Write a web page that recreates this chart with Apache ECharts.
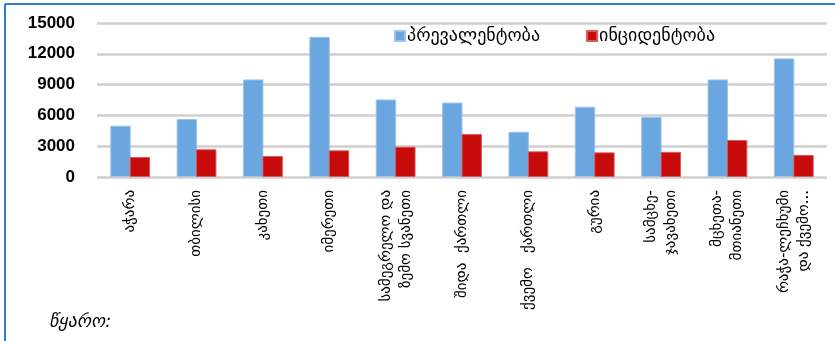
<!DOCTYPE html>
<html>
<head>
<meta charset="utf-8">
<script src="https://cdn.jsdelivr.net/npm/echarts@6/dist/echarts.min.js"></script>
<style>
html, body { margin: 0; padding: 0; background: #fff; }
#chart { width: 835px; height: 341px; }
</style>
</head>
<body>
<div id="chart"></div>
<script>
// რეგიონები
var regions = [
    'აჭარა',
    'თბილისი',
    'კახეთი',
    'იმერეთი',
    'სამეგრელო და\nზემო სვანეთი',
    'შიდა  ქართლი',
    'ქვემო   ქართლი',
    'გურია',
    'სამცხე-\nჯავახეთი',
    'მცხეთა-\nმთიანეთი',
    'რაჭა-ლეჩხუმი\nდა ქვემო...'
];
var seriesNames = ['პრევალენტობა', 'ინციდენტობა'];
var prevalence = [5000, 5650, 9500, 13650, 7550, 7250, 4400, 6850, 5850, 9500, 11550];
var incidence = [1950, 2700, 2050, 2600, 2950, 4200, 2500, 2400, 2450, 3600, 2150];
var yTicks = [0, 3000, 6000, 9000, 12000, 15000];

var geo = '"DejaVu Sans", sans-serif';
var chart = echarts.init(document.getElementById('chart'));

chart.setOption({
    animation: false,
    backgroundColor: '#fff',
    grid: { left: 97, right: 8, top: 23, bottom: 164 },
    legend: {
        data: seriesNames,
        left: 389,
        top: 22,
        itemWidth: 10,
        itemHeight: 10,
        itemGap: 46,
        textStyle: { fontFamily: geo, fontSize: 18, color: '#000', padding: [0, 0, 0, -3] },
        icon: 'rect'
    },
    xAxis: {
        type: 'category',
        data: regions,
        axisLine: { show: false },
        axisTick: { show: false },
        axisLabel: {
            interval: 0,
            rotate: 90,
            margin: 13,
            fontFamily: geo,
            fontSize: 15,
            lineHeight: 20,
            color: '#000'
        }
    },
    yAxis: {
        type: 'value',
        min: 0,
        max: 15000,
        interval: 3000,
        axisLabel: {
            fontFamily: '"Liberation Sans", Arial, sans-serif',
            fontWeight: 'bold',
            fontSize: 17,
            color: '#000',
            margin: 22,
            formatter: function (v) { return yTicks.indexOf(v) >= 0 ? String(v) : ''; }
        },
        splitLine: { lineStyle: { color: '#cfcfcf', width: 2.5 } }
    },
    series: [
        {
            name: seriesNames[0],
            type: 'bar',
            data: prevalence,
            barGap: '-5%',
            barCategoryGap: '40%',
            itemStyle: { color: '#6aa6df', borderColor: '#9cc3ea', borderWidth: 1 }
        },
        {
            name: seriesNames[1],
            type: 'bar',
            data: incidence,
            itemStyle: { color: '#c70b0b', borderColor: '#d85a5a', borderWidth: 1 }
        }
    ],
    graphic: [
        { type: 'line', shape: { x1: 5, y1: 4, x2: 835, y2: 4 }, style: { stroke: '#2a7fcf', lineWidth: 2 } },
        { type: 'line', shape: { x1: 5, y1: 4, x2: 5, y2: 341 }, style: { stroke: '#2a7fcf', lineWidth: 2 } },
        {
            type: 'text',
            left: 49,
            top: 313,
            style: { text: 'წყარო:', font: 'italic 18px "DejaVu Sans", sans-serif', fill: '#000' }
        }
    ]
});
</script>
</body>
</html>
